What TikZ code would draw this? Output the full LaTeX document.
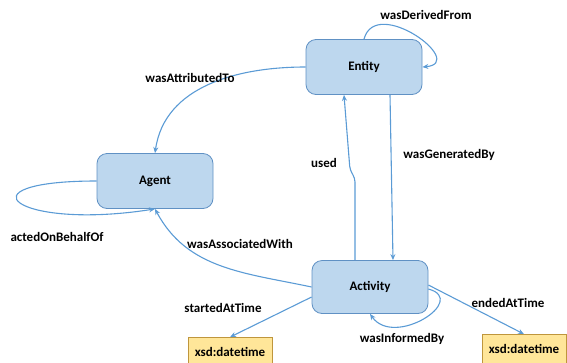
\documentclass[tikz,border=0pt]{standalone}
\usepackage{fontspec}
\setmainfont{Carlito}
\usetikzlibrary{arrows.meta}
\definecolor{boxfill}{RGB}{189,215,238}
\definecolor{boxline}{RGB}{96,145,196}
\definecolor{arrowc}{RGB}{91,155,213}
\definecolor{litfill}{RGB}{255,230,153}
\definecolor{litline}{RGB}{191,150,60}

\begin{document}
\begin{tikzpicture}[x=1pt,y=-1pt,
	every node/.style={font=\fontsize{13}{15}\selectfont\bfseries},
	box/.style={draw=boxline, fill=boxfill, rounded corners=10pt, line width=0.8pt, minimum width=116pt, minimum height=55pt},
	lit/.style={draw=litline, fill=litfill, line width=0.8pt, minimum width=84pt, minimum height=29pt},
	rel/.style={draw=arrowc, line width=1.1pt, -{Stealth[length=6pt,width=5pt]}}]
	\useasboundingbox (0,0) rectangle (567,362);
	\node[box] (ent) at (364,67) {Entity};
	\node[box] (agt) at (155,181) {Agent};
	\node[box, minimum height=53pt] (act) at (370,287) {Activity};
	\node[lit] (xsdA) at (230,352) {xsd:datetime};
	\node[lit] (xsdB) at (524,349) {xsd:datetime};
	% entity and agent
	\draw[rel] (ent.north) to[out=75,in=5,looseness=1.8] (ent.east);
	\draw[rel] (ent.west) to[out=180,in=82] (agt.north);
	\draw[rel] (agt.west) .. controls +(-140,0) and +(-140,22) .. (agt.south);
	% activity
	\draw[rel, rounded corners=4pt] ([xshift=-15]act.north) -- ([xshift=-15,yshift=82]act.north) -- ([xshift=-20,yshift=90]act.north) -- ([xshift=-20]ent.south);
	\draw[rel] ([xshift=26]ent.south) -- ([xshift=23]act.north);
	\draw[rel] (act.west) to[out=168,in=-62] (agt.south);
	\draw[rel] ([yshift=-10]act.west) -- (xsdA.north);
	\draw[rel] ([yshift=2]act.east) -- (xsdB.north);
	\draw[rel] ([yshift=-2]act.east) to[out=-15,in=-55,looseness=1.7] (act.south);
	% labels
	\node (lDer) at (426,15) {wasDerivedFrom};
	\node (lAtt) at (190,78) {wasAttributedTo};
	\node (lUse) at (324,163) {used};
	\node (lGen) at (449,155) {wasGeneratedBy};
	\node (lAss) at (240,244) {wasAssociatedWith};
	\node (lBeh) at (57,237) {actedOnBehalfOf};
	\node (lSta) at (223,308) {startedAtTime};
	\node (lInf) at (402,339) {wasInformedBy};
	\node (lEnd) at (508,303) {endedAtTime};
\end{tikzpicture}
\end{document}
